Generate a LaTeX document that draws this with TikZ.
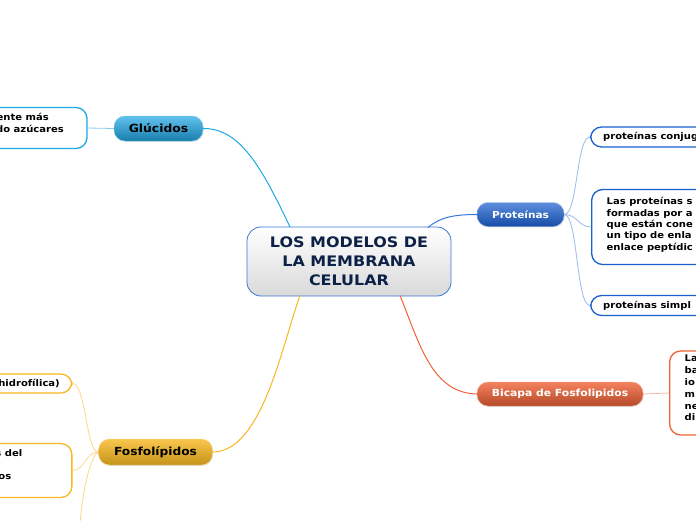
\documentclass[tikz,border=0pt]{standalone}
\usepackage{fontspec}
\setmainfont{DejaVu Sans}
\newfontfamily\vb{DejaVu Sans Bold}[FakeStretch=1.1]
\usetikzlibrary{shadows}
\definecolor{gluc}{HTML}{1FA8E6}
\definecolor{protline}{HTML}{3A78D8}
\definecolor{protleaf}{HTML}{1A5FD0}
\definecolor{protthin}{HTML}{9DB8EE}
\definecolor{bic}{HTML}{F26236}
\definecolor{bicthin}{HTML}{F8B9A2}
\definecolor{fos}{HTML}{F8B820}
\definecolor{fosthin}{HTML}{FBD98A}
\definecolor{navy}{HTML}{0D2147}
\tikzset{
  centralbox/.style={rounded corners=14pt, draw=protline, line width=0.8pt,
    top color=white, bottom color=gray!30, minimum width=204pt, minimum height=69pt,
    align=center, font=\vb\fontsize{14.5}{18.8}\selectfont, text=navy, inner sep=0pt},
  mainbox/.style={rounded corners=11pt, inner sep=0pt, drop shadow={opacity=0.25,shadow xshift=0.6pt,shadow yshift=-0.8pt}},
  leafbox/.style={rounded corners=11pt, line width=1.3pt, fill=white, inner sep=0pt},
  leaftext/.style={font=\vb\fontsize{9.1}{11.5}\selectfont, inner sep=0pt, align=left},
  conn/.style={line width=1pt},
  thin/.style={line width=0.8pt}
}
\begin{document}
\begin{tikzpicture}[x=1pt,y=-1pt]
\useasboundingbox (0,0) rectangle (696,520);
\clip (0,0) rectangle (696,520);
\fill[white] (0,0) rectangle (696,520);

% central
\node[centralbox] (c) at (349,261.5) {LOS MODELOS DE\\LA MEMBRANA\\CELULAR};

% main branches
\node[mainbox, top color=gluc!70, bottom color=gluc!75!black, draw=gluc!60!white, minimum width=89pt, minimum height=25pt, font=\vb\fontsize{11.2}{13}\selectfont] (g) at (158.5,128.5) {Glúcidos};
\node[mainbox, top color=protleaf!70, bottom color=protleaf!80!black, draw=protleaf!50!white, minimum width=87pt, minimum height=24pt, text=white, font=\vb\fontsize{9.6}{12}\selectfont] (p) at (520.5,214.5) {Proteínas};
\node[mainbox, top color=bic!80, bottom color=bic!75!black, draw=bic!50!white, minimum width=166pt, minimum height=24pt, text=white, font=\vb\fontsize{9.8}{12}\selectfont] (b) at (560,394) {Bicapa de Fosfolipidos};
\node[mainbox, top color=fos!80, bottom color=fos!80!black, draw=fos!50!white, minimum width=114pt, minimum height=26pt, font=\vb\fontsize{11.1}{13}\selectfont] (f) at (155.5,452) {Fosfolípidos};

% main connectors
\coordinate (cg) at (290,227);
\coordinate (cp) at (428,227.5);
\coordinate (cb) at (400,295.5);
\coordinate (cf) at (300,295.5);
\draw[conn, gluc] (g.east) .. controls (240,128) and (262,168) .. (cg);
\draw[conn, protline] (cp) .. controls (440,217) and (455,214.5) .. (p.west);
\draw[conn, bic] (cb) .. controls (420,345) and (432,393) .. (b.west);
\draw[conn, fos] (cf) .. controls (282,345) and (262,452) .. (f.east);

% Glúcidos leaf
\node[leafbox, draw=gluc, minimum width=140pt, minimum height=41pt] (gl) at (17,128) {};
\node[leaftext, anchor=east] (gl1) at (49,117) {ente más};
\node[leaftext, anchor=east] (gl2) at (64,128.5) {do azúcares};
\draw[thin, gluc!55] (g.west) -- (gl.east);

% Proteínas leaves
\node[leafbox, draw=protleaf, minimum width=150pt, minimum height=20pt, anchor=west] (p1) at (590,137) {};
\node[leaftext, anchor=west] (p1t) at (603,137) {proteínas conjug};
\node[leafbox, draw=protleaf, minimum width=150pt, minimum height=75pt, anchor=west] (p2) at (591,227) {};
\node[leaftext, anchor=north west, font=\vb\fontsize{9.1}{11.3}\selectfont] (p2t) at (606.5,197.5) {Las proteínas s\\formadas por a\\que están cone\\un tipo de enla\\enlace peptídic};
\node[leafbox, draw=protleaf, minimum width=150pt, minimum height=20pt, anchor=west] (p3) at (590,305.5) {};
\node[leaftext, anchor=west] (p3t) at (603,305.5) {proteínas simpl};
\draw[thin, protthin] (p.east) .. controls (578,214.5) and (576,137) .. (p1.west);
\draw[thin, protthin] (p.east) .. controls (578,214.5) and (578,227) .. (p2.west);
\draw[thin, protthin] (p.east) .. controls (578,214.5) and (576,305.5) .. (p3.west);

% Bicapa leaf
\node[leafbox, draw=bic, minimum width=100pt, minimum height=84pt, anchor=west] (bl) at (669,393) {};
\node[leaftext, anchor=north west, font=\vb\fontsize{9.1}{11.8}\selectfont] (blt) at (684.5,355) {La\\ba\\io\\m\\ne\\di};
\draw[thin, bicthin] (b.east) -- (bl.west);

% Fosfolípidos leaves
\node[leafbox, draw=fos, minimum width=120pt, minimum height=19pt, anchor=east] (f1) at (72.5,383.5) {};
\node[leaftext, anchor=east] (f1t) at (60,383.5) {(hidrofílica)};
\node[leafbox, draw=fos, minimum width=120pt, minimum height=54pt, anchor=east] (f2) at (72.5,470.5) {};
\node[leaftext, anchor=east] (f2a) at (22.5,453.5) {s del};
\node[leaftext, anchor=east] (f2b) at (11.5,477.5) {os};
\coordinate (f3) at (80,524);
\draw[thin, fosthin] (f.west) .. controls (86,452) and (86,383.5) .. (f1.east);
\draw[thin, fosthin] (f.west) .. controls (86,452) and (84,470.5) .. (f2.east);
\draw[thin, fosthin] (f.west) .. controls (90,456) and (82,495) .. (f3);
\end{tikzpicture}
\end{document}
